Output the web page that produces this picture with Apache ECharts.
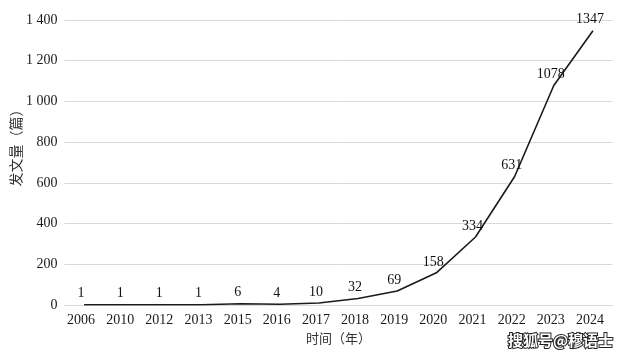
<!DOCTYPE html>
<html><head><meta charset="utf-8">
<script src="https://cdn.jsdelivr.net/npm/echarts@6/dist/echarts.min.js"></script>
<style>html,body{margin:0;padding:0;background:#fff}#c{width:628px;height:357px}</style>
</head><body><div id="c"></div>
<script>
const years = ['2006','2010','2012','2013','2015','2016','2017','2018','2019','2020','2021','2022','2023','2024'];
const counts = [1,1,1,1,6,4,10,32,69,158,334,631,1078,1347];
const yTicks = [0,200,400,600,800,1000,1200,1400];
const yName = '发文量（篇）';
const xName = '时间（年）';
const watermark = '搜狐号@穆语士';

const serif = '"Liberation Serif", "Times New Roman", serif';
const chart = echarts.init(document.getElementById('c'));
chart.setOption({
  animation: false,
  grid: {left: 64.5, right: 15.5, top: 20, bottom: 52, containLabel: false, outerBoundsMode: 'none'},
  xAxis: {
    type: 'category', data: years, boundaryGap: true,
    axisLine: {show: true, lineStyle: {color: '#d9d9d9', width: 1}},
    axisTick: {show: false},
    axisLabel: {color: '#1a1a1a', fontFamily: serif, fontSize: 14, margin: 8, padding: [0, 6, 0, 0]},
    name: xName, nameLocation: 'middle', nameGap: 27,
    nameTextStyle: {color: '#333', fontFamily: '"Noto Sans CJK SC"', fontSize: 13}
  },
  yAxis: {
    type: 'value', min: 0, max: 1400, interval: 200,
    axisLine: {show: false}, axisTick: {show: false},
    splitLine: {lineStyle: {color: '#d9d9d9', width: 1}},
    axisLabel: {color: '#1a1a1a', fontFamily: serif, fontSize: 14, margin: 7,
      formatter: v => String(v).replace(/\B(?=(\d{3})+(?!\d))/g, ' ')},
    name: yName, nameLocation: 'middle', nameGap: 42, nameRotate: 90, nameMoveOverlap: false,
    nameTextStyle: {color: '#333', fontFamily: '"Noto Sans CJK SC"', fontSize: 14, padding: [0, 0, 0, 36]}
  },
  series: [{
    type: 'line', data: counts, symbol: 'circle', symbolSize: 0, showSymbol: true,
    itemStyle: {color: '#1a1a1a'},
    lineStyle: {color: '#1a1a1a', width: 1.6},
    label: {show: true, position: 'top', distance: 4, offset: [-3, 0], color: '#111', fontFamily: serif, fontSize: 14}
  }],
  graphic: [{
    type: 'text', right: 14, bottom: 8,
    style: {text: watermark, fontSize: 15, fontWeight: 'bold', fontFamily: '"Noto Sans CJK SC"',
      fill: '#fff', stroke: '#222', lineWidth: 2}
  }]
});
</script></body></html>
